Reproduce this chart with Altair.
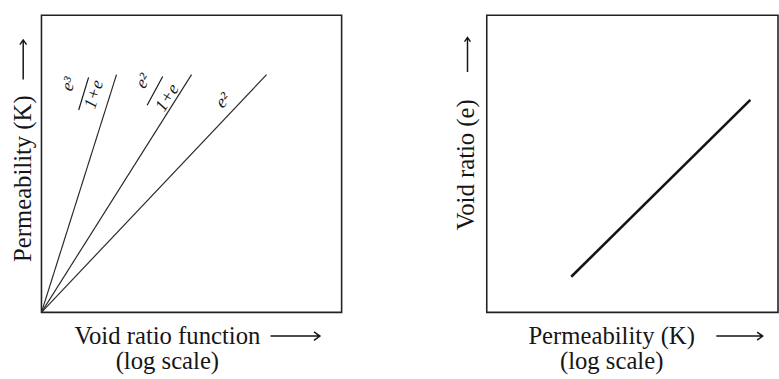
import altair as alt
import pandas as pd

FONT = "Liberation Serif"
INK = "#161616"

# Left panel: permeability against three void-ratio functions (straight lines through the origin)
fn_names = ["e³/(1+e)", "e²/(1+e)", "e²"]
fn_x0 = [0.0, 0.0, 0.0]
fn_y0 = [0.0, 0.0, 0.0]
fn_x1 = [0.25, 0.50, 0.75]
fn_y1 = [0.80, 0.80, 0.80]

# Function labels written along each line
num_text = ["e³", "e²", "e²"]
num_x = [0.092, 0.340, 0.606]
num_y = [0.768, 0.778, 0.712]
num_angle = [287.5, 302.2, 313.3]

den_text = ["1+e", "1+e"]
den_x = [0.176, 0.420]
den_y = [0.733, 0.722]
den_angle = [287.5, 302.2]

bar_x0 = [0.124, 0.352]
bar_y0 = [0.681, 0.697]
bar_x1 = [0.157, 0.404]
bar_y1 = [0.791, 0.794]

# Right panel: void ratio against permeability
k_x = [0.29, 0.905]
k_y = [0.12, 0.715]

W1, W2, H = 304, 295, 301

unit = alt.Scale(domain=[0, 1], nice=False, zero=False)

# open-headed long arrow drawn as a symbol path (tip at +1)
ARROW = "M-1,0L1,0M0.76,-0.17L1,0L0.76,0.17"


def plain_axis(title, **kw):
    return alt.Axis(
        title=title, labels=False, ticks=False, domain=False, grid=False,
        titleFont=FONT, titleFontSize=25, titleFontWeight="normal",
        titleColor=INK, titleLineHeight=26, **kw,
    )


def arrow(x, y, length, angle):
    return alt.Chart(pd.DataFrame({"a": [0]})).mark_point(
        shape=ARROW, filled=False, stroke=INK, strokeWidth=1.5,
        size=length * length, angle=angle, opacity=1,
    ).encode(x=alt.value(x), y=alt.value(y))


lines_df = pd.DataFrame({"fn": fn_names, "x0": fn_x0, "y0": fn_y0, "x1": fn_x1, "y1": fn_y1})
num_df = pd.DataFrame({"t": num_text, "x": num_x, "y": num_y, "a": num_angle})
den_df = pd.DataFrame({"t": den_text, "x": den_x, "y": den_y, "a": den_angle})
bar_df = pd.DataFrame({"x0": bar_x0, "y0": bar_y0, "x1": bar_x1, "y1": bar_y1})

left_lines = alt.Chart(lines_df).mark_rule(color="#2a2a2a", strokeWidth=1.2).encode(
    x=alt.X("x0:Q", scale=unit,
            axis=plain_axis(["Void ratio function", "(log scale)"], titleX=127, titlePadding=11)),
    y=alt.Y("y0:Q", scale=unit,
            axis=plain_axis("Permeability (K)", titleY=165, titlePadding=6)),
    x2="x1:Q",
    y2="y1:Q",
)

label_style = dict(font=FONT, fontSize=18, fontStyle="italic", color=INK, align="center", baseline="middle")

left_num = alt.Chart(num_df).mark_text(**label_style).encode(
    x=alt.X("x:Q", scale=unit), y=alt.Y("y:Q", scale=unit),
    text="t:N", angle=alt.Angle("a:Q", scale=None),
)
left_den = alt.Chart(den_df).mark_text(**label_style).encode(
    x=alt.X("x:Q", scale=unit), y=alt.Y("y:Q", scale=unit),
    text="t:N", angle=alt.Angle("a:Q", scale=None),
)
left_bars = alt.Chart(bar_df).mark_rule(color=INK, strokeWidth=1.2).encode(
    x=alt.X("x0:Q", scale=unit), y=alt.Y("y0:Q", scale=unit), x2="x1:Q", y2="y1:Q",
)

left = alt.layer(
    left_lines, left_bars, left_num, left_den,
    arrow(257, 325, 50, 0),
    arrow(-18.5, 45, 40, 270),
).properties(width=W1, height=H)

k_df = pd.DataFrame({"k": k_x, "e": k_y})
right_line = alt.Chart(k_df).mark_line(color="#141414", strokeWidth=2.6).encode(
    x=alt.X("k:Q", scale=unit,
            axis=plain_axis(["Permeability (K)", "(log scale)"], titleX=126, titlePadding=11)),
    y=alt.Y("e:Q", scale=unit,
            axis=plain_axis("Void ratio (e)", titleY=151, titlePadding=8)),
)

right = alt.layer(
    right_line,
    arrow(256, 325, 47, 0),
    arrow(-19.5, 40, 35, 270),
).properties(width=W2, height=H)

chart = (
    alt.hconcat(left, right, spacing=112)
    .properties(padding={"left": 10, "top": 12, "right": 0, "bottom": 0}, background="white")
    .configure_view(stroke="#222222", strokeWidth=1.6)
)

chart.save("out.html", embed_options={"renderer": "svg", "actions": False})
